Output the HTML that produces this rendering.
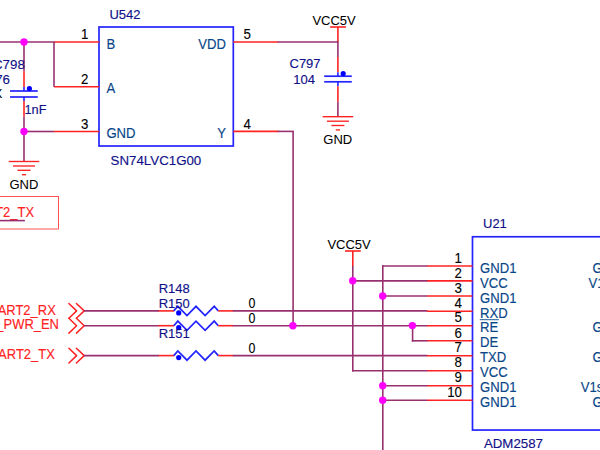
<!DOCTYPE html>
<html><head><meta charset="utf-8"><title>Schematic</title>
<style>
html,body{margin:0;padding:0;background:#fff;}
body{width:600px;height:450px;overflow:hidden;}
svg{display:block;font-family:"Liberation Sans",Arial,sans-serif;}
</style></head><body>
<svg width="600" height="450" viewBox="0 0 600 450">
<rect x="0" y="0" width="600" height="450" fill="#ffffff"/>
<rect x="99" y="27" width="134.3" height="119" fill="none" stroke="#2424ff" stroke-width="1.7"/>
<text x="109.4" y="18.5" fill="#101088" stroke="#101088" stroke-width="0.14" font-size="13.0">U542</text>
<text x="110.6" y="165" fill="#101088" stroke="#101088" stroke-width="0.14" font-size="13.3">SN74LVC1G00</text>
<line x1="54" y1="42" x2="99.25" y2="42" stroke="#ff2222" stroke-width="1.6" stroke-linecap="butt"/>
<text transform="translate(88.4,39.1) scale(1.0,1.1)" fill="#000000" stroke="#000000" stroke-width="0.1" font-size="13.3" text-anchor="end">1</text>
<text transform="translate(106.4,48.7) scale(0.985,1.1)" fill="#084688" stroke="#084688" stroke-width="0.14" font-size="13.3">B</text>
<line x1="54" y1="86.75" x2="99.25" y2="86.75" stroke="#ff2222" stroke-width="1.6" stroke-linecap="butt"/>
<text transform="translate(88.4,83.85) scale(1.0,1.1)" fill="#000000" stroke="#000000" stroke-width="0.1" font-size="13.3" text-anchor="end">2</text>
<text transform="translate(106.4,93.45) scale(0.985,1.1)" fill="#084688" stroke="#084688" stroke-width="0.14" font-size="13.3">A</text>
<line x1="54" y1="131.5" x2="99.25" y2="131.5" stroke="#ff2222" stroke-width="1.6" stroke-linecap="butt"/>
<text transform="translate(88.4,128.6) scale(1.0,1.1)" fill="#000000" stroke="#000000" stroke-width="0.1" font-size="13.3" text-anchor="end">3</text>
<text transform="translate(106.4,138.2) scale(0.985,1.1)" fill="#084688" stroke="#084688" stroke-width="0.14" font-size="13.3">GND</text>
<line x1="233.25" y1="42" x2="278.4" y2="42" stroke="#ff2222" stroke-width="1.6" stroke-linecap="butt"/>
<text transform="translate(243.6,39.1) scale(1.0,1.1)" fill="#000000" stroke="#000000" stroke-width="0.1" font-size="13.3">5</text>
<text transform="translate(226,48.7) scale(0.985,1.1)" fill="#084688" stroke="#084688" stroke-width="0.14" font-size="13.3" text-anchor="end">VDD</text>
<line x1="233.25" y1="131.4" x2="278.4" y2="131.4" stroke="#ff2222" stroke-width="1.6" stroke-linecap="butt"/>
<text transform="translate(243.6,128.5) scale(1.0,1.1)" fill="#000000" stroke="#000000" stroke-width="0.1" font-size="13.3">4</text>
<text transform="translate(226,138.1) scale(0.985,1.1)" fill="#084688" stroke="#084688" stroke-width="0.14" font-size="13.3" text-anchor="end">Y</text>
<line x1="0" y1="42" x2="54.7" y2="42" stroke="#983070" stroke-width="1.6" stroke-linecap="butt"/>
<line x1="54" y1="42" x2="54" y2="86.75" stroke="#983070" stroke-width="1.6" stroke-linecap="butt"/>
<line x1="24" y1="131.5" x2="54" y2="131.5" stroke="#983070" stroke-width="1.6" stroke-linecap="butt"/>
<line x1="24" y1="42" x2="24" y2="71.25" stroke="#983070" stroke-width="1.6" stroke-linecap="butt"/>
<line x1="24" y1="71.25" x2="24" y2="87" stroke="#ff2222" stroke-width="1.6" stroke-linecap="butt"/>
<line x1="24" y1="87" x2="24" y2="91" stroke="#2424ff" stroke-width="1.6" stroke-linecap="butt"/>
<line x1="10" y1="91" x2="37.75" y2="91" stroke="#2424ff" stroke-width="1.7" stroke-linecap="butt"/>
<line x1="10" y1="97" x2="37.75" y2="97" stroke="#2424ff" stroke-width="1.7" stroke-linecap="butt"/>
<line x1="24" y1="97" x2="24" y2="101" stroke="#2424ff" stroke-width="1.6" stroke-linecap="butt"/>
<line x1="24" y1="101" x2="24" y2="116.6" stroke="#ff2222" stroke-width="1.6" stroke-linecap="butt"/>
<line x1="24" y1="116.6" x2="24" y2="161.5" stroke="#983070" stroke-width="1.6" stroke-linecap="butt"/>
<circle cx="29.4" cy="88.6" r="2.6" fill="#0000ff"/>
<text x="24.8" y="68.5" fill="#101088" stroke="#101088" stroke-width="0.14" font-size="13.3" text-anchor="end">C798</text>
<text x="10" y="83.5" fill="#101088" stroke="#101088" stroke-width="0.14" font-size="13.3" text-anchor="end">76</text>
<text x="2.4" y="98" fill="#000000" stroke="#000000" stroke-width="0.05" font-size="13.3" text-anchor="end">X</text>
<text x="24.5" y="113.6" fill="#101088" stroke="#101088" stroke-width="0.14" font-size="12.8">1nF</text>
<line x1="8.7" y1="161.5" x2="39.3" y2="161.5" stroke="#ff2222" stroke-width="1.35" stroke-linecap="butt"/>
<line x1="13" y1="166.0" x2="35" y2="166.0" stroke="#ff2222" stroke-width="1.35" stroke-linecap="butt"/>
<line x1="17.5" y1="170.3" x2="30.5" y2="170.3" stroke="#ff2222" stroke-width="1.35" stroke-linecap="butt"/>
<line x1="21.9" y1="174.7" x2="26.1" y2="174.7" stroke="#ff2222" stroke-width="1.35" stroke-linecap="butt"/>
<text x="9.4" y="188.6" fill="#000000" stroke="#000000" stroke-width="0.05" font-size="13.0">GND</text>
<rect x="-10" y="196.5" width="68.5" height="32.5" fill="none" stroke="#ff2a2a" stroke-width="0.8"/>
<text transform="translate(34.1,216.6) scale(0.975,1.07)" fill="#ff2222" stroke="#ff2222" stroke-width="0.14" font-size="13.3" text-anchor="end">UART2_TX</text>
<line x1="0" y1="220.6" x2="24.9" y2="220.6" stroke="#983070" stroke-width="1.6" stroke-linecap="butt"/>
<line x1="277.7" y1="42" x2="338" y2="42" stroke="#983070" stroke-width="1.6" stroke-linecap="butt"/>
<line x1="330.09999999999997" y1="27" x2="345.9" y2="27" stroke="#ff2222" stroke-width="1.6" stroke-linecap="butt"/>
<line x1="337.9" y1="27" x2="337.9" y2="42.2" stroke="#ff2222" stroke-width="1.6" stroke-linecap="butt"/>
<text x="312.4" y="24.6" fill="#000000" stroke="#000000" stroke-width="0.05" font-size="13.0">VCC5V</text>
<line x1="337.9" y1="41.3" x2="337.9" y2="57" stroke="#983070" stroke-width="1.6" stroke-linecap="butt"/>
<line x1="337.9" y1="57" x2="337.9" y2="72.3" stroke="#ff2222" stroke-width="1.6" stroke-linecap="butt"/>
<line x1="337.9" y1="72.3" x2="337.9" y2="76.2" stroke="#2424ff" stroke-width="1.6" stroke-linecap="butt"/>
<line x1="324.2" y1="76.2" x2="351.8" y2="76.2" stroke="#2424ff" stroke-width="1.7" stroke-linecap="butt"/>
<line x1="324.2" y1="81.8" x2="351.8" y2="81.8" stroke="#2424ff" stroke-width="1.7" stroke-linecap="butt"/>
<line x1="337.9" y1="81.8" x2="337.9" y2="86.3" stroke="#2424ff" stroke-width="1.6" stroke-linecap="butt"/>
<line x1="337.9" y1="86.3" x2="337.9" y2="101.8" stroke="#ff2222" stroke-width="1.6" stroke-linecap="butt"/>
<line x1="337.9" y1="101.8" x2="337.9" y2="116.7" stroke="#983070" stroke-width="1.6" stroke-linecap="butt"/>
<circle cx="343.2" cy="73.6" r="2.6" fill="#0000ff"/>
<line x1="322.59999999999997" y1="116.7" x2="353.2" y2="116.7" stroke="#ff2222" stroke-width="1.35" stroke-linecap="butt"/>
<line x1="326.9" y1="121.2" x2="348.9" y2="121.2" stroke="#ff2222" stroke-width="1.35" stroke-linecap="butt"/>
<line x1="331.4" y1="125.5" x2="344.4" y2="125.5" stroke="#ff2222" stroke-width="1.35" stroke-linecap="butt"/>
<line x1="335.79999999999995" y1="129.9" x2="340.0" y2="129.9" stroke="#ff2222" stroke-width="1.35" stroke-linecap="butt"/>
<text x="323.3" y="143.8" fill="#000000" stroke="#000000" stroke-width="0.05" font-size="13.0">GND</text>
<text x="289.5" y="68.4" fill="#101088" stroke="#101088" stroke-width="0.14" font-size="13.0">C797</text>
<text x="293.3" y="83.5" fill="#101088" stroke="#101088" stroke-width="0.14" font-size="13.0">104</text>
<line x1="277.7" y1="131.4" x2="293.9" y2="131.4" stroke="#983070" stroke-width="1.6" stroke-linecap="butt"/>
<line x1="293.1" y1="131.4" x2="293.1" y2="325.7" stroke="#983070" stroke-width="1.6" stroke-linecap="butt"/>
<polyline points="68.9,303.5 76.6,310.9 68.9,318.29999999999995" fill="none" stroke="#ff2222" stroke-width="1.5" stroke-linejoin="round" stroke-linecap="round"/>
<polyline points="76.4,303.5 84.2,310.9 76.4,318.29999999999995" fill="none" stroke="#ff2222" stroke-width="1.5" stroke-linejoin="round" stroke-linecap="round"/>
<polyline points="68.9,318.3 76.6,325.7 68.9,333.09999999999997" fill="none" stroke="#ff2222" stroke-width="1.5" stroke-linejoin="round" stroke-linecap="round"/>
<polyline points="76.4,318.3 84.2,325.7 76.4,333.09999999999997" fill="none" stroke="#ff2222" stroke-width="1.5" stroke-linejoin="round" stroke-linecap="round"/>
<polyline points="68.9,348.20000000000005 76.6,355.6 68.9,363.0" fill="none" stroke="#ff2222" stroke-width="1.5" stroke-linejoin="round" stroke-linecap="round"/>
<polyline points="76.4,348.20000000000005 84.2,355.6 76.4,363.0" fill="none" stroke="#ff2222" stroke-width="1.5" stroke-linejoin="round" stroke-linecap="round"/>
<text transform="translate(55.8,314.5) scale(0.975,1.07)" fill="#ff2222" stroke="#ff2222" stroke-width="0.14" font-size="13.3" text-anchor="end">UART2_RX</text>
<text transform="translate(59,329.3) scale(0.975,1.07)" fill="#ff2222" stroke="#ff2222" stroke-width="0.14" font-size="13.3" text-anchor="end">RS485_PWR_EN</text>
<text transform="translate(54.8,359.2) scale(0.975,1.07)" fill="#ff2222" stroke="#ff2222" stroke-width="0.14" font-size="13.3" text-anchor="end">UART2_TX</text>
<line x1="84" y1="310.9" x2="159" y2="310.9" stroke="#983070" stroke-width="1.6" stroke-linecap="butt"/>
<line x1="158.6" y1="310.9" x2="174" y2="310.9" stroke="#ff2222" stroke-width="1.6" stroke-linecap="butt"/>
<polyline points="173.8,310.9 177.8,306.29999999999995 187,315.5 196,306.29999999999995 205.1,315.5 214.2,306.29999999999995 218.3,310.9" fill="none" stroke="#2424ff" stroke-width="1.7" stroke-linejoin="miter" stroke-linecap="butt"/>
<line x1="218.2" y1="310.9" x2="233.3" y2="310.9" stroke="#ff2222" stroke-width="1.6" stroke-linecap="butt"/>
<line x1="232.8" y1="310.9" x2="427.4" y2="310.9" stroke="#983070" stroke-width="1.6" stroke-linecap="butt"/>
<circle cx="178.7" cy="312.9" r="2.6" fill="#0000ff"/>
<line x1="84" y1="325.7" x2="159" y2="325.7" stroke="#983070" stroke-width="1.6" stroke-linecap="butt"/>
<line x1="158.6" y1="325.7" x2="174" y2="325.7" stroke="#ff2222" stroke-width="1.6" stroke-linecap="butt"/>
<polyline points="173.8,325.7 177.8,321.09999999999997 187,330.3 196,321.09999999999997 205.1,330.3 214.2,321.09999999999997 218.3,325.7" fill="none" stroke="#2424ff" stroke-width="1.7" stroke-linejoin="miter" stroke-linecap="butt"/>
<line x1="218.2" y1="325.7" x2="233.3" y2="325.7" stroke="#ff2222" stroke-width="1.6" stroke-linecap="butt"/>
<line x1="232.8" y1="325.7" x2="427.4" y2="325.7" stroke="#983070" stroke-width="1.6" stroke-linecap="butt"/>
<circle cx="178.7" cy="327.7" r="2.6" fill="#0000ff"/>
<line x1="84" y1="355.6" x2="159" y2="355.6" stroke="#983070" stroke-width="1.6" stroke-linecap="butt"/>
<line x1="158.6" y1="355.6" x2="174" y2="355.6" stroke="#ff2222" stroke-width="1.6" stroke-linecap="butt"/>
<polyline points="173.8,355.6 177.8,351.0 187,360.20000000000005 196,351.0 205.1,360.20000000000005 214.2,351.0 218.3,355.6" fill="none" stroke="#2424ff" stroke-width="1.7" stroke-linejoin="miter" stroke-linecap="butt"/>
<line x1="218.2" y1="355.6" x2="233.3" y2="355.6" stroke="#ff2222" stroke-width="1.6" stroke-linecap="butt"/>
<line x1="232.8" y1="355.6" x2="427.4" y2="355.6" stroke="#983070" stroke-width="1.6" stroke-linecap="butt"/>
<circle cx="178.7" cy="357.6" r="2.6" fill="#0000ff"/>
<text x="158.7" y="293" fill="#101088" stroke="#101088" stroke-width="0.14" font-size="13.0">R148</text>
<text x="158.7" y="307.6" fill="#101088" stroke="#101088" stroke-width="0.14" font-size="13.0">R150</text>
<text x="158.7" y="337.5" fill="#101088" stroke="#101088" stroke-width="0.14" font-size="13.0">R151</text>
<text transform="translate(248.6,308) scale(0.93,1.12)" fill="#000000" stroke="#000000" stroke-width="0.1" font-size="13.3">0</text>
<text transform="translate(248.6,323.3) scale(0.93,1.12)" fill="#000000" stroke="#000000" stroke-width="0.1" font-size="13.3">0</text>
<text transform="translate(248.6,353.3) scale(0.93,1.12)" fill="#000000" stroke="#000000" stroke-width="0.1" font-size="13.3">0</text>
<rect x="472.5" y="236.75" width="200" height="193.3" fill="none" stroke="#2424ff" stroke-width="1.7"/>
<text x="483" y="227.7" fill="#101088" stroke="#101088" stroke-width="0.14" font-size="13.0">U21</text>
<text x="483.9" y="448" fill="#101088" stroke="#101088" stroke-width="0.14" font-size="13.3">ADM2587</text>
<line x1="427" y1="266" x2="472.5" y2="266" stroke="#ff2222" stroke-width="1.6" stroke-linecap="butt"/>
<text transform="translate(462,262.7) scale(1.0,1.1)" fill="#000000" stroke="#000000" stroke-width="0.1" font-size="13.3" text-anchor="end">1</text>
<text transform="translate(480.1,272.6) scale(0.985,1.1)" fill="#084688" stroke="#084688" stroke-width="0.14" font-size="13.3">GND1</text>
<line x1="427" y1="280.9" x2="472.5" y2="280.9" stroke="#ff2222" stroke-width="1.6" stroke-linecap="butt"/>
<text transform="translate(462,277.59999999999997) scale(1.0,1.1)" fill="#000000" stroke="#000000" stroke-width="0.1" font-size="13.3" text-anchor="end">2</text>
<text transform="translate(480.1,287.5) scale(0.985,1.1)" fill="#084688" stroke="#084688" stroke-width="0.14" font-size="13.3">VCC</text>
<line x1="427" y1="296" x2="472.5" y2="296" stroke="#ff2222" stroke-width="1.6" stroke-linecap="butt"/>
<text transform="translate(462,292.7) scale(1.0,1.1)" fill="#000000" stroke="#000000" stroke-width="0.1" font-size="13.3" text-anchor="end">3</text>
<text transform="translate(480.1,302.6) scale(0.985,1.1)" fill="#084688" stroke="#084688" stroke-width="0.14" font-size="13.3">GND1</text>
<line x1="427" y1="311.2" x2="472.5" y2="311.2" stroke="#ff2222" stroke-width="1.6" stroke-linecap="butt"/>
<text transform="translate(462,307.9) scale(1.0,1.1)" fill="#000000" stroke="#000000" stroke-width="0.1" font-size="13.3" text-anchor="end">4</text>
<text transform="translate(480.1,317.8) scale(0.985,1.1)" fill="#084688" stroke="#084688" stroke-width="0.14" font-size="13.3">RXD</text>
<line x1="427" y1="325.7" x2="472.5" y2="325.7" stroke="#ff2222" stroke-width="1.6" stroke-linecap="butt"/>
<text transform="translate(462,322.4) scale(1.0,1.1)" fill="#000000" stroke="#000000" stroke-width="0.1" font-size="13.3" text-anchor="end">5</text>
<text transform="translate(480.1,332.3) scale(0.985,1.1)" fill="#084688" stroke="#084688" stroke-width="0.14" font-size="13.3">RE</text>
<line x1="427" y1="340.8" x2="472.5" y2="340.8" stroke="#ff2222" stroke-width="1.6" stroke-linecap="butt"/>
<text transform="translate(462,337.5) scale(1.0,1.1)" fill="#000000" stroke="#000000" stroke-width="0.1" font-size="13.3" text-anchor="end">6</text>
<text transform="translate(480.1,347.40000000000003) scale(0.985,1.1)" fill="#084688" stroke="#084688" stroke-width="0.14" font-size="13.3">DE</text>
<line x1="427" y1="355.7" x2="472.5" y2="355.7" stroke="#ff2222" stroke-width="1.6" stroke-linecap="butt"/>
<text transform="translate(462,352.4) scale(1.0,1.1)" fill="#000000" stroke="#000000" stroke-width="0.1" font-size="13.3" text-anchor="end">7</text>
<text transform="translate(480.1,362.3) scale(0.985,1.1)" fill="#084688" stroke="#084688" stroke-width="0.14" font-size="13.3">TXD</text>
<line x1="427" y1="370.7" x2="472.5" y2="370.7" stroke="#ff2222" stroke-width="1.6" stroke-linecap="butt"/>
<text transform="translate(462,367.4) scale(1.0,1.1)" fill="#000000" stroke="#000000" stroke-width="0.1" font-size="13.3" text-anchor="end">8</text>
<text transform="translate(480.1,377.3) scale(0.985,1.1)" fill="#084688" stroke="#084688" stroke-width="0.14" font-size="13.3">VCC</text>
<line x1="427" y1="385.7" x2="472.5" y2="385.7" stroke="#ff2222" stroke-width="1.6" stroke-linecap="butt"/>
<text transform="translate(462,382.4) scale(1.0,1.1)" fill="#000000" stroke="#000000" stroke-width="0.1" font-size="13.3" text-anchor="end">9</text>
<text transform="translate(480.1,392.3) scale(0.985,1.1)" fill="#084688" stroke="#084688" stroke-width="0.14" font-size="13.3">GND1</text>
<line x1="427" y1="400.3" x2="472.5" y2="400.3" stroke="#ff2222" stroke-width="1.6" stroke-linecap="butt"/>
<text transform="translate(462,397.0) scale(1.0,1.1)" fill="#000000" stroke="#000000" stroke-width="0.1" font-size="13.3" text-anchor="end">10</text>
<text transform="translate(480.1,406.90000000000003) scale(0.985,1.1)" fill="#084688" stroke="#084688" stroke-width="0.14" font-size="13.3">GND1</text>
<line x1="479.8" y1="319.7" x2="498.8" y2="319.7" stroke="#084688" stroke-width="0.9" stroke-linecap="butt"/>
<text transform="translate(592.4,272.8) scale(0.985,1.1)" fill="#084688" stroke="#084688" stroke-width="0.14" font-size="13.3">GND2</text>
<text transform="translate(588.6,287.6) scale(0.985,1.1)" fill="#084688" stroke="#084688" stroke-width="0.14" font-size="13.3">V1soIN</text>
<text transform="translate(592.4,332.4) scale(0.985,1.1)" fill="#084688" stroke="#084688" stroke-width="0.14" font-size="13.3">GND2</text>
<text transform="translate(592.4,362.4) scale(0.985,1.1)" fill="#084688" stroke="#084688" stroke-width="0.14" font-size="13.3">GND2</text>
<text transform="translate(580.8,392.4) scale(0.985,1.1)" fill="#084688" stroke="#084688" stroke-width="0.14" font-size="13.3">V1soOUT</text>
<text transform="translate(592.4,407.0) scale(0.985,1.1)" fill="#084688" stroke="#084688" stroke-width="0.14" font-size="13.3">GND2</text>
<line x1="345.0" y1="251" x2="360.8" y2="251" stroke="#ff2222" stroke-width="1.6" stroke-linecap="butt"/>
<line x1="352.8" y1="251" x2="352.8" y2="266.2" stroke="#ff2222" stroke-width="1.6" stroke-linecap="butt"/>
<text x="327.4" y="248.6" fill="#000000" stroke="#000000" stroke-width="0.05" font-size="13.0">VCC5V</text>
<line x1="352.8" y1="266" x2="352.8" y2="371.5" stroke="#983070" stroke-width="1.6" stroke-linecap="butt"/>
<line x1="352" y1="370.7" x2="427.4" y2="370.7" stroke="#983070" stroke-width="1.6" stroke-linecap="butt"/>
<line x1="352.5" y1="280.9" x2="427.4" y2="280.9" stroke="#983070" stroke-width="1.6" stroke-linecap="butt"/>
<line x1="382.8" y1="265.2" x2="382.8" y2="450" stroke="#983070" stroke-width="1.6" stroke-linecap="butt"/>
<line x1="382" y1="266" x2="427.4" y2="266" stroke="#983070" stroke-width="1.6" stroke-linecap="butt"/>
<line x1="382.5" y1="296" x2="427.4" y2="296" stroke="#983070" stroke-width="1.6" stroke-linecap="butt"/>
<line x1="382.5" y1="385.7" x2="427.4" y2="385.7" stroke="#983070" stroke-width="1.6" stroke-linecap="butt"/>
<line x1="382.5" y1="400.3" x2="427.4" y2="400.3" stroke="#983070" stroke-width="1.6" stroke-linecap="butt"/>
<line x1="412.6" y1="325.7" x2="412.6" y2="341.6" stroke="#983070" stroke-width="1.6" stroke-linecap="butt"/>
<line x1="411.8" y1="340.8" x2="427.4" y2="340.8" stroke="#983070" stroke-width="1.6" stroke-linecap="butt"/>
<circle cx="24" cy="42" r="3.7" fill="#ff00ff"/>
<circle cx="24" cy="131.5" r="3.7" fill="#ff00ff"/>
<circle cx="292.9" cy="325.7" r="3.7" fill="#ff00ff"/>
<circle cx="352.7" cy="280.8" r="3.7" fill="#ff00ff"/>
<circle cx="382.7" cy="296" r="3.7" fill="#ff00ff"/>
<circle cx="382.7" cy="385.7" r="3.7" fill="#ff00ff"/>
<circle cx="382.7" cy="400.3" r="3.7" fill="#ff00ff"/>
<circle cx="412.4" cy="325.6" r="3.7" fill="#ff00ff"/>
</svg>
</body></html>
